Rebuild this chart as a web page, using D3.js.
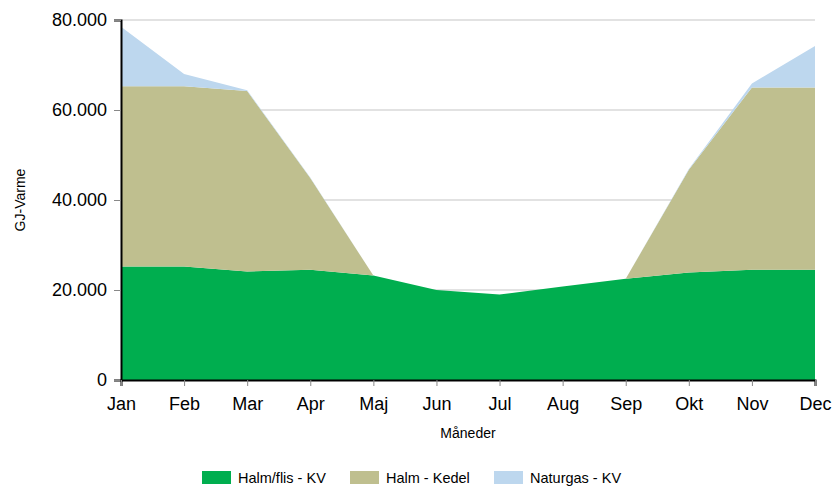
<!DOCTYPE html>
<html>
<head>
<meta charset="utf-8">
<script src="https://cdn.jsdelivr.net/npm/d3@7"></script>
<style>
  body { margin: 0; background: #fff; }
  svg { font-family: "Liberation Sans", Arial, sans-serif; }
</style>
</head>
<body>
<svg id="chart" width="837" height="490"></svg>
<script>
const months = ["Jan", "Feb", "Mar", "Apr", "Maj", "Jun", "Jul", "Aug", "Sep", "Okt", "Nov", "Dec"];
const seriesNames = ["Halm/flis - KV", "Halm - Kedel", "Naturgas - KV"];
const halmFlis = [25200, 25200, 24100, 24500, 23200, 20000, 19000, 20800, 22500, 23900, 24500, 24500];
const halmKedel = [40100, 40100, 40100, 20400, 0, 0, 0, 0, 0, 22800, 40500, 40500];
const naturgas = [13200, 2700, 200, 100, 0, 0, 0, 0, 0, 200, 900, 9200];
const yTicks = [0, 20000, 40000, 60000, 80000];
const colors = ["#00ae4f", "#bfbf8f", "#bdd7ee"];

const svg = d3.select("#chart");
const margin = { left: 121, right: 22, top: 20, bottom: 110 };
const width = 837, height = 490;

const x = d3.scalePoint().domain(months).range([margin.left, width - margin.right]);
const y = d3.scaleLinear().domain([0, 80000]).range([height - margin.bottom, margin.top]);

const table = months.map((m, i) => ({
  month: m,
  [seriesNames[0]]: halmFlis[i],
  [seriesNames[1]]: halmKedel[i],
  [seriesNames[2]]: naturgas[i],
}));
const stacked = d3.stack().keys(seriesNames)(table);

// gridlines
svg.append("g")
  .selectAll("line")
  .data(yTicks.filter((d) => d > 0))
  .join("line")
  .attr("x1", margin.left)
  .attr("x2", width - margin.right)
  .attr("y1", (d) => y(d))
  .attr("y2", (d) => y(d))
  .attr("stroke", "#d9d9d9")
  .attr("stroke-width", 1.5);

const area = d3.area()
  .x((d) => x(d.data.month))
  .y0((d) => y(d[0]))
  .y1((d) => y(d[1]));

svg.append("g")
  .selectAll("path")
  .data(stacked)
  .join("path")
  .attr("d", area)
  .attr("fill", (d, i) => colors[i]);

// y axis
const yAxis = svg.append("g")
  .attr("transform", `translate(${margin.left},0)`)
  .call(d3.axisLeft(y).tickValues(yTicks).tickSize(7).tickPadding(7)
    .tickFormat((d) => d === 0 ? "0" : d3.format(",")(d).replace(/,/g, ".")));
yAxis.select(".domain").attr("stroke", "#000").attr("stroke-width", 2);
yAxis.selectAll(".tick line").attr("stroke", "#888");
yAxis.selectAll(".tick text").attr("font-size", 18).attr("fill", "#000")
  .attr("font-family", "Liberation Sans, Arial, sans-serif");

// x axis
const xAxis = svg.append("g")
  .attr("transform", `translate(0,${y(0)})`)
  .call(d3.axisBottom(x).tickSize(6).tickPadding(11));
xAxis.select(".domain").attr("stroke", "#000").attr("stroke-width", 2);
xAxis.selectAll(".tick line").attr("stroke", "#888");
xAxis.selectAll(".tick text").attr("font-size", 18).attr("fill", "#000")
  .attr("font-family", "Liberation Sans, Arial, sans-serif");

// axis titles
svg.append("text")
  .attr("transform", `translate(25,${(y(0) + y(80000)) / 2}) rotate(-90)`)
  .attr("text-anchor", "middle")
  .attr("font-size", 14)
  .text("GJ-Varme");

svg.append("text")
  .attr("x", (margin.left + width - margin.right) / 2)
  .attr("y", 438)
  .attr("text-anchor", "middle")
  .attr("font-size", 14)
  .text("Måneder");

// legend
const legendX = [202, 350, 494];
const legend = svg.append("g")
  .selectAll("g")
  .data(seriesNames)
  .join("g")
  .attr("transform", (d, i) => `translate(${legendX[i]},471)`);
legend.append("rect")
  .attr("width", 29)
  .attr("height", 13)
  .attr("fill", (d, i) => colors[i]);
legend.append("text")
  .attr("x", 36)
  .attr("y", 12)
  .attr("font-size", 14.5)
  .text((d) => d);
</script>
</body>
</html>
